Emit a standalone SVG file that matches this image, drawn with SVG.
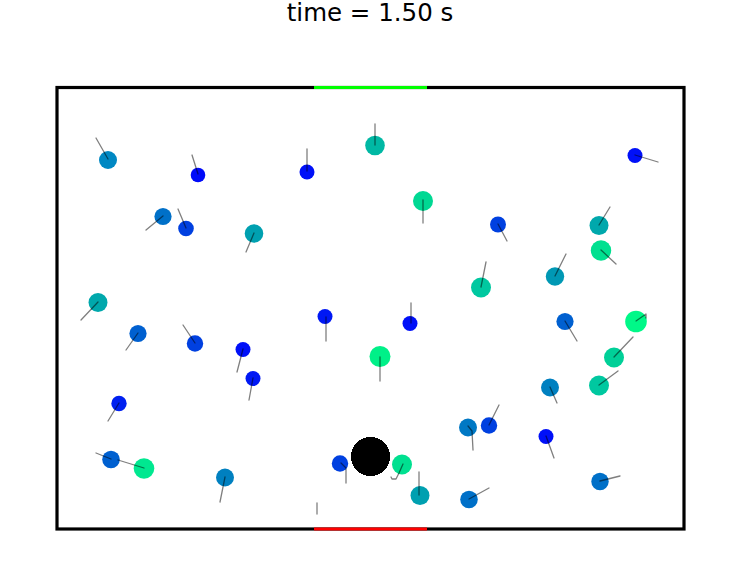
<svg xmlns="http://www.w3.org/2000/svg" width="739" height="585" viewBox="0 0 739 585">
<style>
.t{fill:none;stroke:#000;stroke-opacity:0.5;stroke-width:1.3;stroke-linecap:round;stroke-linejoin:round}
</style>
<rect x="0" y="0" width="739" height="585" fill="#fff"/>
<text x="370" y="21" font-family="DejaVu Sans, sans-serif" font-size="24.5" text-anchor="middle" fill="#000">time = 1.50 s</text>
<rect x="57" y="87.5" width="627" height="441.5" fill="none" stroke="#000" stroke-width="3.2"/>
<line x1="314" y1="87.5" x2="427" y2="87.5" stroke="#00ff00" stroke-width="3.2"/>
<line x1="314" y1="529" x2="427" y2="529" stroke="#ff0000" stroke-width="3.2"/>
<g id="particles">
<circle cx="108" cy="160" r="9" fill="#0088c3"/>
<circle cx="198" cy="175" r="7.3" fill="#000af9"/>
<circle cx="307" cy="172" r="7.5" fill="#0010f8"/>
<circle cx="375" cy="145.5" r="9.8" fill="#00b8a4"/>
<circle cx="423" cy="201" r="10" fill="#00d893"/>
<circle cx="635" cy="155.5" r="7.5" fill="#0010f8"/>
<circle cx="163" cy="216.5" r="8.6" fill="#0070c8"/>
<circle cx="186" cy="228.5" r="7.8" fill="#0040e0"/>
<circle cx="254" cy="233.5" r="9.3" fill="#00a0b0"/>
<circle cx="498" cy="224.5" r="8" fill="#0040e0"/>
<circle cx="599" cy="225.5" r="9.5" fill="#00a8ac"/>
<circle cx="601" cy="250.5" r="10.2" fill="#00e090"/>
<circle cx="555" cy="276.5" r="9.2" fill="#0098b4"/>
<circle cx="481" cy="287.5" r="10" fill="#00c8a0"/>
<circle cx="98" cy="302.5" r="9.5" fill="#00a8ac"/>
<circle cx="138" cy="333.5" r="8.6" fill="#0060d0"/>
<circle cx="195" cy="343.5" r="8.2" fill="#0040e0"/>
<circle cx="325" cy="316.5" r="7.5" fill="#0018f4"/>
<circle cx="410" cy="323.5" r="7.5" fill="#0010f8"/>
<circle cx="565" cy="321.5" r="8.6" fill="#0060d0"/>
<circle cx="636" cy="321.5" r="10.8" fill="#00f888"/>
<circle cx="243" cy="349.5" r="7.5" fill="#0010f8"/>
<circle cx="380" cy="356.5" r="10.5" fill="#00f088"/>
<circle cx="614" cy="357.5" r="10" fill="#00d098"/>
<circle cx="253" cy="378.5" r="7.5" fill="#0018f4"/>
<circle cx="550" cy="387.5" r="9" fill="#0080c0"/>
<circle cx="599" cy="385.5" r="10" fill="#00c8a0"/>
<circle cx="119" cy="403.5" r="7.7" fill="#0020f0"/>
<circle cx="468" cy="427.5" r="9" fill="#0078c4"/>
<circle cx="489" cy="425.5" r="8.2" fill="#0040e0"/>
<circle cx="546" cy="436.5" r="7.5" fill="#0010f8"/>
<circle cx="111" cy="459.5" r="8.8" fill="#0060d0"/>
<circle cx="144" cy="468.5" r="10.3" fill="#00e890"/>
<circle cx="225" cy="477.5" r="9" fill="#0080c0"/>
<circle cx="340" cy="463.5" r="8.2" fill="#0040e0"/>
<circle cx="402" cy="464.5" r="10" fill="#00e090"/>
<circle cx="420" cy="495.5" r="9.5" fill="#00a0b0"/>
<circle cx="469" cy="499.5" r="8.8" fill="#0070c8"/>
<circle cx="600" cy="481.5" r="8.7" fill="#0070c8"/>
<circle cx="370.5" cy="456.5" r="19.5" fill="#000" shape-rendering="crispEdges"/>
</g>
<g id="trails">
<polyline class="t" points="108,159 96,138"/>
<polyline class="t" points="198,174 192,155"/>
<polyline class="t" points="307,171 307,149"/>
<polyline class="t" points="375,145 375,124"/>
<polyline class="t" points="423,200 423,223"/>
<polyline class="t" points="635,155 658,162"/>
<polyline class="t" points="163,216 146,230"/>
<polyline class="t" points="186,228 178,209"/>
<polyline class="t" points="254,233 246,252"/>
<polyline class="t" points="498,224 507,241"/>
<polyline class="t" points="599,225 610,207"/>
<polyline class="t" points="601,250 616,264"/>
<polyline class="t" points="555,276 566,254"/>
<polyline class="t" points="481,287 486,262"/>
<polyline class="t" points="98,302 81,320"/>
<polyline class="t" points="138,333 126,350"/>
<polyline class="t" points="195,343 183,325"/>
<polyline class="t" points="326,317 326,341"/>
<polyline class="t" points="411,323 411,303"/>
<polyline class="t" points="565,321 577,341"/>
<polyline class="t" points="636,321 646,314 646,318"/>
<polyline class="t" points="243,349 237,372"/>
<polyline class="t" points="380,357 380,381"/>
<polyline class="t" points="614,357 633,337"/>
<polyline class="t" points="253,378 249,400"/>
<polyline class="t" points="550,387 557,403"/>
<polyline class="t" points="599,385 618,371"/>
<polyline class="t" points="119,403 108,421"/>
<polyline class="t" points="468,426 472,431 473,450"/>
<polyline class="t" points="489,425 499,405"/>
<polyline class="t" points="546,436 554,458"/>
<polyline class="t" points="111,459 96,453"/>
<polyline class="t" points="144,468 118,460"/>
<polyline class="t" points="225,477 220,502"/>
<polyline class="t" points="341,463 346,468 346,483"/>
<polyline class="t" points="403,464 399,473 396,479 392,479 391,477"/>
<polyline class="t" points="419,472 419,495"/>
<polyline class="t" points="469,499 489,488"/>
<polyline class="t" points="600,481 620,476"/>
<polyline class="t" points="317,503 317,514"/>
</g>
</svg>
